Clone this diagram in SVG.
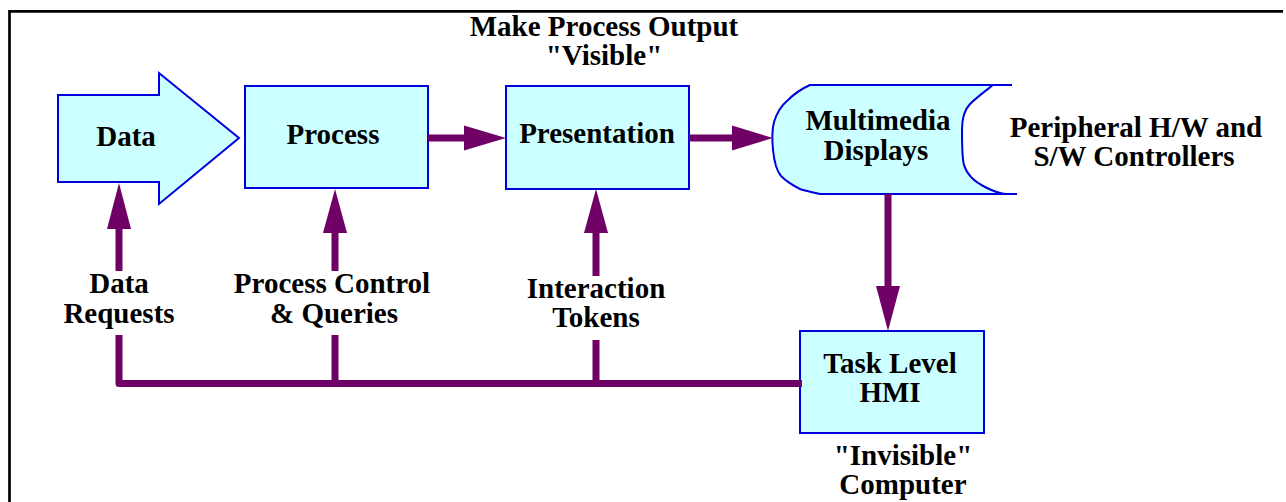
<svg xmlns="http://www.w3.org/2000/svg" width="1286" height="502" viewBox="0 0 1286 502">
  <style>
    .node { fill: #CCFFFF; stroke: #0000DD; stroke-width: 2; }
    .t { font-family: "Liberation Serif", "Times New Roman", serif; font-weight: bold; font-size: 29px; fill: #000; text-anchor: middle; }
    .c { fill: none; stroke: #6E0066; stroke-width: 7; }
    .h { fill: #6E0066; }
  </style>
  <rect x="0" y="0" width="1286" height="502" fill="#fff"/>
  <path d="M9.5,502 V11.3 H1283" fill="none" stroke="#000" stroke-width="2.7"/>

  <g id="title">
    <text class="t" x="604" y="36">Make Process Output</text>
    <text class="t" x="604" y="65">"Visible"</text>
  </g>

  <g id="data">
    <path class="node" d="M58,95 H159 V73 L239,138 L159,204 V182 H58 Z"/>
    <text class="t" x="126" y="146">Data</text>
  </g>

  <g id="process">
    <rect class="node" x="245" y="86" width="183" height="102"/>
    <text class="t" x="333" y="144">Process</text>
  </g>

  <g id="presentation">
    <rect class="node" x="506" y="86" width="183" height="103"/>
    <text class="t" x="597" y="143">Presentation</text>
  </g>

  <g id="multimedia">
    <path class="node" d="M810,85 H993 C984,92 976,98 970,104 C964,110 962,118 962,130 C962,145 962,158 964,165 C967,175 975,182 985,187 C993,191 999,194 1006,194 H820 C812,192 806,191 800,189 C792,185 786,181 781,176 C776,170 774,160 773,150 C772,140 772,130 774,122 C777,112 782,105 788,100 C795,93 801,89 810,85 Z"/>
    <path d="M993,85 H1012 M1003,194 H1017" fill="none" stroke="#0000DD" stroke-width="2"/>
    <text class="t" x="878" y="130">Multimedia</text>
    <text class="t" x="876" y="160">Displays</text>
  </g>

  <g id="peripheral">
    <text class="t" x="1136" y="137">Peripheral H/W and</text>
    <text class="t" x="1134" y="166">S/W Controllers</text>
  </g>

  <g id="task">
    <rect class="node" x="800" y="331" width="184" height="102"/>
    <text class="t" x="890" y="373">Task Level</text>
    <text class="t" x="890" y="402">HMI</text>
  </g>

  <g id="invisible">
    <text class="t" x="903" y="465">"Invisible"</text>
    <text class="t" x="903" y="494">Computer</text>
  </g>

  <g id="labels">
    <text class="t" x="119" y="293">Data</text>
    <text class="t" x="119" y="323">Requests</text>
    <text class="t" x="332" y="293">Process Control</text>
    <text class="t" x="334" y="323">&amp; Queries</text>
    <text class="t" x="596" y="298">Interaction</text>
    <text class="t" x="596" y="327">Tokens</text>
  </g>

  <g id="connectors">
    <!-- Process -> Presentation -->
    <path class="c" d="M428,138 H466"/>
    <path class="h" d="M464,125.5 L506,138 L464,150.5 Z"/>
    <!-- Presentation -> Multimedia -->
    <path class="c" d="M689,138 H734"/>
    <path class="h" d="M732,125.5 L773,138 L732,150.5 Z"/>
    <!-- Multimedia -> Task -->
    <path class="c" d="M888,194 V288"/>
    <path class="h" d="M876,286 L900,286 L888,331 Z"/>
    <!-- bus -->
    <path class="c" d="M119,335 V383.5 H802" stroke-linejoin="round"/>
    <path class="c" d="M335,335 V383.5"/>
    <path class="c" d="M596,340 V383.5"/>
    <!-- up to Data -->
    <path class="c" d="M119,271 V227"/>
    <path class="h" d="M107,229 L131,229 L119,183 Z"/>
    <!-- up to Process -->
    <path class="c" d="M335,271 V231"/>
    <path class="h" d="M323,233 L347,233 L335,189 Z"/>
    <!-- up to Presentation -->
    <path class="c" d="M596,276 V231"/>
    <path class="h" d="M584,233 L608,233 L596,189 Z"/>
  </g>
</svg>
